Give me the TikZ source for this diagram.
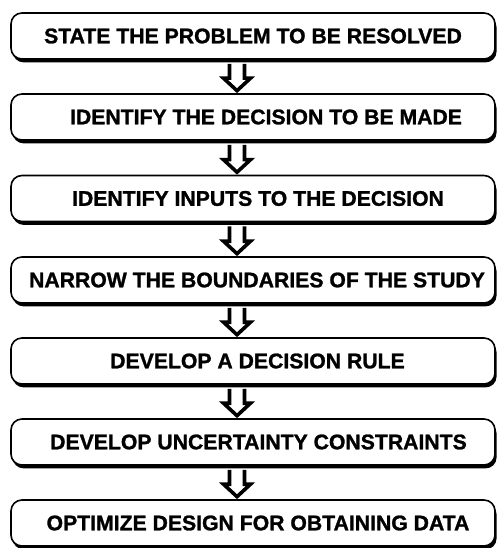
\documentclass[tikz,border=0pt]{standalone}
\usepackage{fontspec}
\setmainfont{Liberation Sans}[BoldFeatures={FakeBold=1.2}]
\begin{document}
\begin{tikzpicture}[x=1pt,y=-1pt,
  stepbox/.style={draw=black, line width=1.6pt, rounded corners=11pt, fill=white,
    minimum width=484pt, minimum height=46pt, inner sep=0pt,
    font=\bfseries\fontsize{21.2}{25}\selectfont,
    preaction={fill=black, transform canvas={xshift=1.6pt,yshift=-3.4pt}}},
  flowarrow/.style={draw=black, line width=3.6pt, fill=white, line join=miter}]
\useasboundingbox (0,0) rectangle (499,548);
\node[stepbox] (s1) at (253,36) {\raisebox{-2pt}{STATE THE PROBLEM TO BE RESOLVED}};
\node[stepbox] (s2) at (253,117) {\raisebox{-2pt}{\hspace*{26pt}IDENTIFY THE DECISION TO BE MADE}};
\node[stepbox] (s3) at (253,198.5) {\raisebox{-1pt}{\hspace*{10pt}IDENTIFY INPUTS TO THE DECISION}};
\node[stepbox] (s4) at (253,280) {\raisebox{-1pt}{\hspace*{8pt}NARROW THE BOUNDARIES OF THE STUDY}};
\node[stepbox] (s5) at (253,361) {\raisebox{-1pt}{\hspace*{9pt}DEVELOP A DECISION RULE}};
\node[stepbox] (s6) at (253,442) {\raisebox{-1pt}{\hspace*{11pt}DEVELOP UNCERTAINTY CONSTRAINTS}};
\node[stepbox] (s7) at (253,523) {\raisebox{-2pt}{\hspace*{10pt}OPTIMIZE DESIGN FOR OBTAINING DATA}};
\foreach \a/\b in {s1/s2,s2/s3,s3/s4,s4/s5,s5/s6,s6/s7}{
  \draw[flowarrow]
    ([xshift=-23.5pt,yshift=-4pt]\a.south) --
    ([xshift=-23.5pt,yshift=15pt]\b.north) --
    ([xshift=-29.5pt,yshift=15pt]\b.north) --
    ([xshift=-16pt,yshift=2.5pt]\b.north) --
    ([xshift=-2.5pt,yshift=15pt]\b.north) --
    ([xshift=-8.5pt,yshift=15pt]\b.north) --
    ([xshift=-8.5pt,yshift=-4pt]\a.south);
}
\end{tikzpicture}
\end{document}
